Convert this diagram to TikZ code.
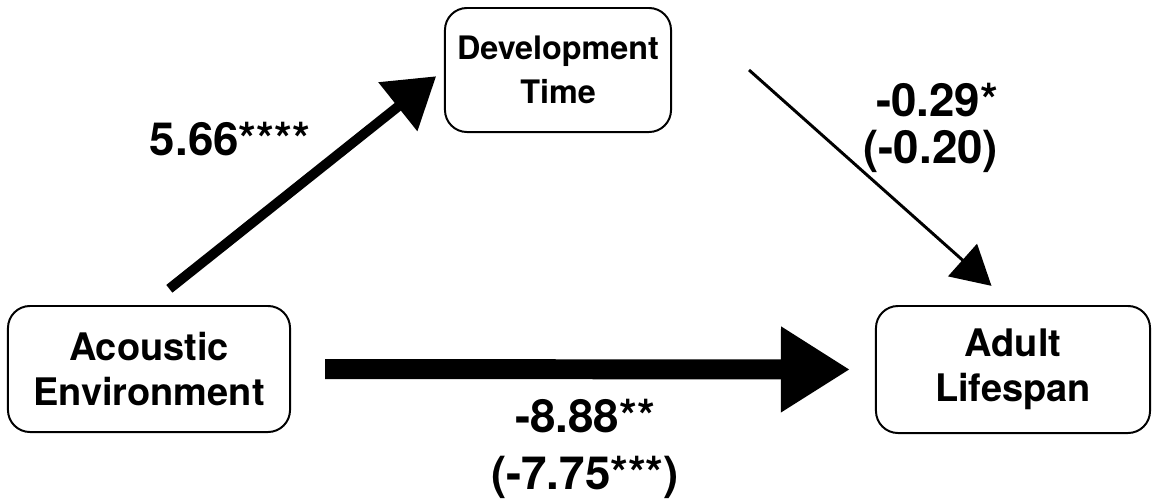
\documentclass[tikz,border=0pt]{standalone}
\usepackage{fontspec}
\setmainfont{TeX Gyre Heros}
\usetikzlibrary{arrows.meta}
\begin{document}
\begin{tikzpicture}[x=0.025cm,y=-0.025cm]
\useasboundingbox (0,0) rectangle (1158,501);
\node[draw, line width=1.4pt, rounded corners=0.55cm, align=center, minimum width=5.65cm, minimum height=3.1cm, font=\fontsize{23}{31}\selectfont\bfseries] (devtime) at (558,70) {Development\\ Time};
\node[draw, line width=1.4pt, rounded corners=0.55cm, align=center, minimum width=7.05cm, minimum height=3.15cm, font=\fontsize{27}{32}\selectfont\bfseries] (acoustic) at (149,369) {Acoustic\\ Environment};
\node[draw, line width=1.4pt, rounded corners=0.55cm, align=center, minimum width=6.85cm, minimum height=3.175cm, font=\fontsize{27}{32}\selectfont\bfseries] (lifespan) at (1013,369.5) {Adult\\ Lifespan};
\node[font=\fontsize{32.5}{39}\selectfont\bfseries] (apath) at (230,139) {5.66****};
\node[align=right, anchor=east, font=\fontsize{32.5}{33.5}\selectfont\bfseries] (bpath) at (1003,128) {-0.29*\\ (-0.20)};
\node[align=center, font=\fontsize{32.5}{41}\selectfont\bfseries] (cpath) at (585,449) {-8.88**\\ (-7.75***)};
\draw[line width=7pt, -{Triangle[length=1.225cm,width=1.5cm]}, shorten <=0.65cm, shorten >=0.25cm] (acoustic.north) -- (devtime.west);
\draw[line width=2.1pt, -{Triangle[length=0.97cm,width=1.075cm]}, shorten >=0.72cm] ([xshift=1.925cm]devtime.east) -- (lifespan.north);
\draw[line width=14.2pt, -{Triangle[length=1.725cm,width=2.025cm]}, shorten <=0.85cm, shorten >=0.625cm] (acoustic.east) -- (lifespan.west);
\end{tikzpicture}
\end{document}
